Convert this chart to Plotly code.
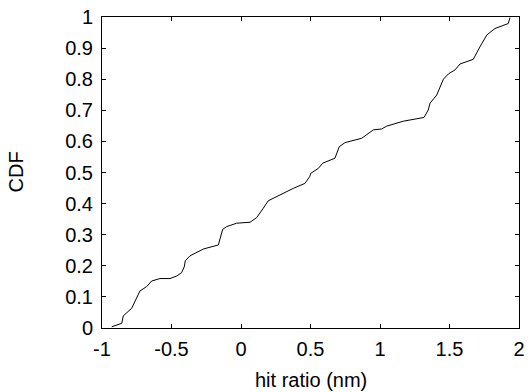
import plotly.graph_objects as go

hit_ratio = [-0.93, -0.858, -0.847, -0.787, -0.727, -0.679, -0.643, -0.583, -0.511, -0.463,
             -0.427, -0.408, -0.401, -0.367, -0.271, -0.163, -0.132, -0.103, -0.031, 0.065,
             0.113, 0.137, 0.16, 0.196, 0.281, 0.376, 0.46, 0.496, 0.501, 0.556, 0.588,
             0.676, 0.707, 0.748, 0.868, 0.952, 1.012, 1.048, 1.168, 1.317, 1.347, 1.36,
             1.408, 1.444, 1.456, 1.492, 1.54, 1.576, 1.671, 1.719, 1.768, 1.827, 1.923, 1.935]
cdf = [0.004, 0.015, 0.039, 0.063, 0.119, 0.133, 0.151, 0.159, 0.159, 0.167,
       0.178, 0.197, 0.216, 0.232, 0.254, 0.267, 0.317, 0.326, 0.337, 0.34,
       0.355, 0.372, 0.385, 0.409, 0.428, 0.449, 0.465, 0.488, 0.497, 0.513, 0.53,
       0.546, 0.583, 0.596, 0.61, 0.637, 0.64, 0.649, 0.665, 0.677, 0.701, 0.723,
       0.749, 0.787, 0.8, 0.817, 0.83, 0.849, 0.864, 0.904, 0.942, 0.963, 0.979, 0.998]

x_ticks = [-1, -0.5, 0, 0.5, 1, 1.5, 2]
x_tick_labels = ["-1", "-0.5", "0", "0.5", "1", "1.5", "2"]
y_ticks = [0, 0.1, 0.2, 0.3, 0.4, 0.5, 0.6, 0.7, 0.8, 0.9, 1]
y_tick_labels = ["0", "0.1", "0.2", "0.3", "0.4", "0.5", "0.6", "0.7", "0.8", "0.9", "1"]
x_title = "hit ratio (nm)"
y_title = "CDF"

font = "Liberation Sans, Arial, sans-serif"
fsize = 20

fig = go.Figure()
fig.add_trace(go.Scatter(x=hit_ratio, y=cdf, mode="lines",
                         line=dict(color="black", width=1), showlegend=False,
                         hoverinfo="skip"))

axis_common = dict(showline=True, linecolor="black", linewidth=1, mirror="ticks",
                   ticks="inside", ticklen=4, tickcolor="black", tickwidth=1,
                   showgrid=False, zeroline=False, automargin=False,
                   ticklabeloverflow="allow",
                   tickfont=dict(family=font, size=fsize, color="black"))

fig.update_layout(
    width=531, height=392,
    margin=dict(l=102, r=12, t=17, b=64),
    plot_bgcolor="white", paper_bgcolor="white",
    xaxis=dict(range=[-1, 2], tickvals=x_ticks, ticktext=x_tick_labels,
               ticklabelstandoff=3, **axis_common),
    yaxis=dict(range=[0, 1], tickvals=y_ticks, ticktext=y_tick_labels,
               ticklabelstandoff=4, **axis_common),
    annotations=[
        dict(text=x_title, xref="paper", yref="paper", x=0.5, y=0, yshift=-52,
             xanchor="center", yanchor="middle", showarrow=False,
             font=dict(family=font, size=fsize, color="black")),
        dict(text=y_title, xref="paper", yref="paper", x=0, y=0.5, xshift=-87,
             xanchor="center", yanchor="middle", showarrow=False, textangle=-90,
             font=dict(family=font, size=fsize, color="black")),
    ],
)

fig.write_html("out.html", config={"displayModeBar": False},
               post_script="document.body.style.margin='0';")
